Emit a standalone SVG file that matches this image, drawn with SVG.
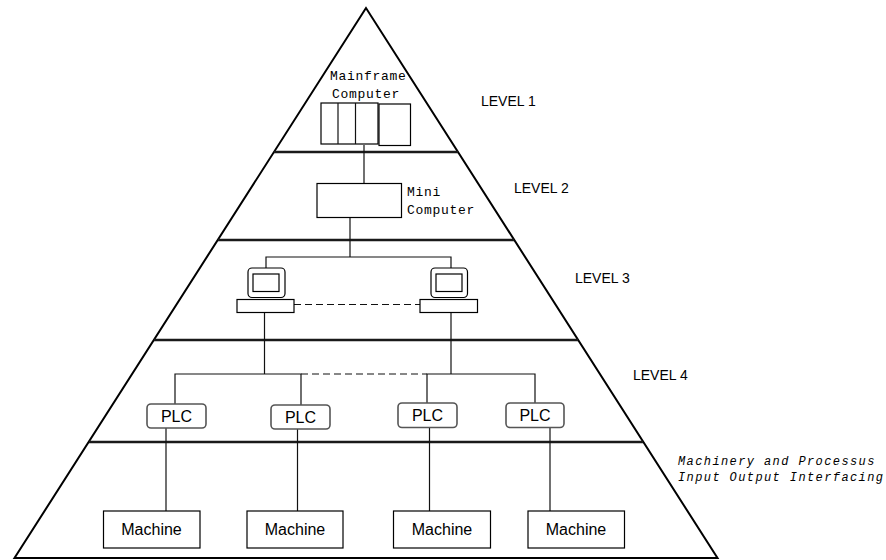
<svg xmlns="http://www.w3.org/2000/svg" width="886" height="560" viewBox="0 0 886 560">
<style>
.edge{fill:none;stroke:#000;stroke-width:2}
.band{stroke:#1a1a1a;stroke-width:2.5}
.box{fill:#fff;stroke:#000;stroke-width:1.2}
.plc{fill:#fff;stroke:#555;stroke-width:1.6}
.wire{fill:none;stroke:#111;stroke-width:1.2}
.dash{fill:none;stroke:#111;stroke-width:1.2;stroke-dasharray:7 4}
.mono{font-family:"Liberation Mono","DejaVu Sans Mono",monospace;font-size:13px;letter-spacing:0.7px;fill:#000}
.ital{font-family:"Liberation Mono","DejaVu Sans Mono",monospace;font-size:12px;font-style:italic;letter-spacing:1.4px;fill:#000}
.sans{font-family:"Liberation Sans",Arial,sans-serif;fill:#000}
</style>
<rect width="886" height="560" fill="#fff"/>
<g id="pyramid">
<polygon class="edge" points="366,8 14.5,558 717.5,558"/>
<line class="band" x1="274" y1="152" x2="458" y2="152"/>
<line class="band" x1="218" y1="240" x2="514" y2="240"/>
<line class="band" x1="154" y1="340" x2="578" y2="340"/>
<line class="band" x1="89" y1="442" x2="643" y2="442"/>
</g>
<g id="connectors">
<line class="wire" x1="364" y1="145" x2="364" y2="183"/>
<polyline class="wire" points="350,218 350,257"/>
<polyline class="wire" points="266,268 266,257 451,257 451,268"/>
<line class="dash" x1="294" y1="304.5" x2="420" y2="304.5"/>
<line class="wire" x1="264.5" y1="313" x2="264.5" y2="374"/>
<line class="wire" x1="451" y1="313" x2="451" y2="374"/>
<polyline class="wire" points="175,404 175,374 301,374 301,405"/>
<line class="dash" x1="301" y1="374" x2="427" y2="374"/>
<polyline class="wire" points="427,403 427,374 535,374 535,403"/>
<line class="wire" x1="166" y1="428" x2="166" y2="511"/>
<line class="wire" x1="297.5" y1="429" x2="297.5" y2="511"/>
<line class="wire" x1="429.5" y1="428" x2="429.5" y2="511"/>
<line class="wire" x1="550" y1="427" x2="550" y2="511"/>
</g>
<g id="mainframe">
<text class="mono" x="330" y="80">Mainframe</text>
<text class="mono" x="332" y="98">Computer</text>
<rect class="box" x="321" y="103" width="57" height="41"/>
<line class="wire" x1="338" y1="103" x2="338" y2="144"/>
<line class="wire" x1="355.5" y1="103" x2="355.5" y2="144"/>
<rect class="box" x="379" y="104" width="31.5" height="41.5"/>
</g>
<g id="minicomputer">
<rect class="box" x="317" y="183.5" width="84.5" height="34"/>
<text class="mono" x="407" y="196">Mini</text>
<text class="mono" x="407" y="214">Computer</text>
</g>
<g id="workstation-left">
<rect class="box" x="248" y="268" width="37" height="29.5" rx="4"/>
<rect class="box" x="253" y="274" width="26" height="17.5"/>
<rect class="box" x="237" y="299.5" width="57" height="13"/>
</g>
<g id="workstation-right">
<rect class="box" x="431" y="268" width="36.5" height="29.5" rx="4"/>
<rect class="box" x="436" y="274" width="26" height="17.5"/>
<rect class="box" x="420" y="299.5" width="57.5" height="13"/>
</g>
<g id="plc1"><rect class="plc" x="147" y="404" width="59" height="24" rx="4"/><text class="sans" x="176.5" y="422" font-size="16" text-anchor="middle">PLC</text></g>
<g id="plc2"><rect class="plc" x="271" y="405" width="59" height="24" rx="4"/><text class="sans" x="300.5" y="423" font-size="16" text-anchor="middle">PLC</text></g>
<g id="plc3"><rect class="plc" x="398" y="403" width="59" height="24.5" rx="4"/><text class="sans" x="427.5" y="421" font-size="16" text-anchor="middle">PLC</text></g>
<g id="plc4"><rect class="plc" x="506" y="403" width="58" height="24.5" rx="4"/><text class="sans" x="535" y="421" font-size="16" text-anchor="middle">PLC</text></g>
<g id="machine1"><rect class="box" x="103.5" y="511" width="96.5" height="37"/><text class="sans" x="151.5" y="535" font-size="16" text-anchor="middle">Machine</text></g>
<g id="machine2"><rect class="box" x="247" y="511" width="96" height="37"/><text class="sans" x="295" y="535" font-size="16" text-anchor="middle">Machine</text></g>
<g id="machine3"><rect class="box" x="393.5" y="511" width="97" height="37"/><text class="sans" x="442" y="535" font-size="16" text-anchor="middle">Machine</text></g>
<g id="machine4"><rect class="box" x="528" y="511" width="96.5" height="37"/><text class="sans" x="576" y="535" font-size="16" text-anchor="middle">Machine</text></g>
<g id="labels">
<text class="sans" x="481" y="106" font-size="14">LEVEL 1</text>
<text class="sans" x="514" y="193" font-size="14">LEVEL 2</text>
<text class="sans" x="575" y="283" font-size="14">LEVEL 3</text>
<text class="sans" x="633" y="380" font-size="14">LEVEL 4</text>
<text class="ital" x="678" y="465">Machinery and Processus</text>
<text class="ital" x="678" y="481">Input Output Interfacing</text>
</g>
</svg>
